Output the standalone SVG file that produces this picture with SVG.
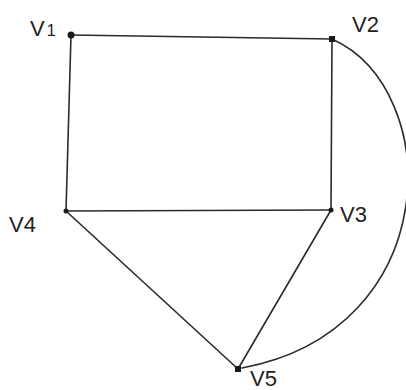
<svg xmlns="http://www.w3.org/2000/svg" width="406" height="390" viewBox="0 0 406 390">
<style>
.e{stroke:#2a2a2a;stroke-width:1.6;fill:none;stroke-linecap:round}
.n{fill:#1a1a1a}
.l{font-family:"Liberation Sans",Arial,sans-serif;font-size:22px;fill:#222}
</style>
<rect width="406" height="390" fill="#fff"/>
<g id="connectors">
<line class="e" x1="71" y1="35" x2="332" y2="39" stroke="#666"/>
<line class="e" x1="71" y1="35" x2="66" y2="211"/>
<line class="e" x1="332" y1="39" x2="331" y2="209"/>
<line class="e" x1="66" y1="211" x2="331" y2="210"/>
<line class="e" x1="66" y1="211" x2="238" y2="369"/>
<line class="e" x1="331" y1="210" x2="238" y2="369"/>
<path class="e" d="M332,39 C445,90 445,330 242,368"/>
</g>
<g id="V1"><circle class="n" cx="71" cy="35" r="3.5"/><text class="l" x="30" y="36">V<tspan font-size="16" dx="2">1</tspan></text></g>
<g id="V2"><rect class="n" x="329" y="36" width="6" height="6"/><text class="l" x="352" y="32">V2</text></g>
<g id="V3"><circle class="n" cx="331" cy="210" r="2.5"/><text class="l" x="340" y="222">V3</text></g>
<g id="V4"><circle class="n" cx="66" cy="211" r="2.5"/><text class="l" x="9" y="232">V4</text></g>
<g id="V5"><rect class="n" x="235" y="366" width="6" height="6"/><text class="l" x="250" y="386">V5</text></g>
</svg>
